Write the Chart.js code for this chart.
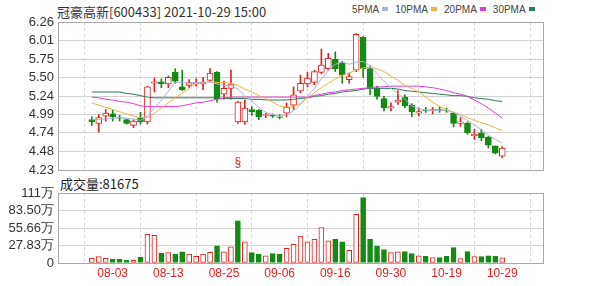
<!DOCTYPE html>
<html>
<head>
<meta charset="utf-8">
<script src="https://cdn.jsdelivr.net/npm/chart.js@4.4.1/dist/chart.umd.min.js"></script>
<style>
    body { margin: 0; background: #fff; width: 600px; height: 286px; position: relative; overflow: hidden; font-family: "Liberation Sans", Arial, sans-serif; }
    #title { position: absolute; left: 57px; top: 2px; font-size: 13px; color: #333; font-family: "Noto Sans CJK SC", sans-serif; white-space: nowrap; }
    #legend { position: absolute; left: 352px; top: 4px; font-size: 10px; color: #444; white-space: nowrap; }
    #legend span.sw { display: inline-block; width: 6px; height: 4px; margin: 0 7px 2px 3px; vertical-align: middle; }
    #volTitle { position: absolute; left: 60px; top: 174px; font-size: 13px; color: #222; font-family: "Noto Sans CJK SC", sans-serif; white-space: nowrap; }
    #priceWrap { position: absolute; left: 0; top: 0; width: 600px; height: 178px; }
    #volWrap { position: absolute; left: 0; top: 178px; width: 600px; height: 108px; }
</style>
</head>
<body>
<div id="title">冠豪高新[600433] 2021-10-29 15:00</div>
<div id="legend"></div>
<div id="volTitle">成交量:81675</div>
<div id="priceWrap"><canvas id="price-chart"></canvas></div>
<div id="volWrap"><canvas id="volume-chart"></canvas></div>
<script>
// Trading days shown
const dates = ['07-29', '07-30', '08-02', '08-03', '08-04', '08-05', '08-06', '08-09', '08-10', '08-11',
    '08-12', '08-13', '08-16', '08-17', '08-18', '08-19', '08-20', '08-23', '08-24', '08-25',
    '08-26', '08-27', '08-30', '08-31', '09-01', '09-02', '09-03', '09-06', '09-07', '09-08',
    '09-09', '09-10', '09-13', '09-14', '09-15', '09-16', '09-17', '09-22', '09-23', '09-24',
    '09-27', '09-28', '09-29', '09-30', '10-08', '10-11', '10-12', '10-13', '10-14', '10-15',
    '10-18', '10-19', '10-20', '10-21', '10-22', '10-25', '10-26', '10-27', '10-28', '10-29'];

const open = [4.92, 4.87, 4.97, 5.00, 4.95, 4.92, 4.84, 4.94, 4.89, 5.42,
    5.44, 5.41, 5.57, 5.37, 5.39, 5.41, 5.41, 5.46, 5.57, 5.27,
    5.35, 4.89, 4.89, 5.06, 5.05, 4.98, 4.98, 4.96, 5.01, 5.12,
    5.31, 5.41, 5.43, 5.57, 5.62, 5.75, 5.70, 5.47, 5.60, 6.05,
    5.62, 5.35, 5.21, 5.08, 5.16, 5.23, 5.12, 5.01, 5.05, 5.04,
    5.06, 5.05, 5.01, 4.87, 4.87, 4.70, 4.74, 4.68, 4.56, 4.42];
const close = [4.89, 4.95, 5.01, 4.96, 4.94, 4.87, 4.90, 4.89, 5.37, 5.44,
    5.41, 5.50, 5.45, 5.33, 5.43, 5.43, 5.44, 5.56, 5.20, 5.35,
    5.41, 5.16, 5.08, 5.03, 4.96, 4.99, 4.97, 4.95, 5.09, 5.26,
    5.42, 5.49, 5.58, 5.67, 5.76, 5.62, 5.53, 5.51, 6.09, 5.62,
    5.36, 5.24, 5.08, 5.10, 5.19, 5.11, 5.03, 5.03, 5.04, 5.06,
    5.05, 5.04, 4.87, 4.89, 4.74, 4.72, 4.67, 4.57, 4.46, 4.53];
const high = [4.96, 4.99, 5.06, 5.05, 4.98, 4.93, 4.92, 5.02, 5.38, 5.49,
    5.48, 5.52, 5.62, 5.60, 5.47, 5.48, 5.50, 5.62, 5.58, 5.45,
    5.60, 5.17, 5.19, 5.10, 5.06, 5.01, 5.00, 4.99, 5.15, 5.37,
    5.53, 5.57, 5.60, 5.89, 5.83, 5.85, 5.72, 5.56, 6.10, 6.06,
    5.66, 5.38, 5.24, 5.15, 5.32, 5.26, 5.14, 5.08, 5.09, 5.09,
    5.10, 5.08, 5.02, 4.95, 4.89, 4.79, 4.79, 4.69, 4.56, 4.55];
const low = [4.84, 4.75, 4.90, 4.90, 4.90, 4.86, 4.81, 4.86, 4.86, 5.30,
    5.36, 5.36, 5.42, 5.32, 5.36, 5.38, 5.33, 5.45, 5.16, 5.20,
    5.20, 4.87, 4.86, 4.98, 4.92, 4.95, 4.95, 4.93, 4.96, 5.06,
    5.29, 5.37, 5.40, 5.55, 5.60, 5.58, 5.42, 5.42, 5.58, 5.50,
    5.26, 5.20, 5.04, 5.04, 5.13, 5.08, 4.96, 4.97, 5.02, 5.00,
    5.02, 5.02, 4.82, 4.83, 4.72, 4.65, 4.63, 4.53, 4.45, 4.40];

// Moving averages
const ma5 = [4.93, 4.92, 4.93, 4.94, 4.95, 4.94, 4.93, 4.91, 4.97, 5.08,
    5.19, 5.31, 5.43, 5.43, 5.42, 5.43, 5.42, 5.44, 5.41, 5.39,
    5.39, 5.34, 5.24, 5.18, 5.09, 5.02, 4.99, 4.97, 4.99, 5.04,
    5.13, 5.24, 5.35, 5.48, 5.60, 5.68, 5.71, 5.68, 5.71, 5.72,
    5.66, 5.55, 5.45, 5.35, 5.28, 5.20, 5.11, 5.07, 5.05, 5.05,
    5.05, 5.05, 5.02, 4.97, 4.91, 4.85, 4.78, 4.71, 4.65, 4.60];
const ma10 = [5.15, 5.12, 5.09, 5.06, 5.03, 5.00, 4.97, 4.95, 4.95, 5.01,
    5.08, 5.15, 5.22, 5.28, 5.35, 5.42, 5.43, 5.44, 5.43, 5.43,
    5.42, 5.39, 5.34, 5.30, 5.25, 5.21, 5.16, 5.11, 5.09, 5.10,
    5.14, 5.22, 5.29, 5.36, 5.42, 5.48, 5.53, 5.56, 5.60, 5.63,
    5.64, 5.62, 5.58, 5.52, 5.46, 5.39, 5.35, 5.30, 5.23, 5.16,
    5.10, 5.06, 5.02, 4.99, 4.95, 4.91, 4.88, 4.85, 4.81, 4.77];
const ma20 = [5.23, 5.22, 5.20, 5.19, 5.17, 5.16, 5.14, 5.11, 5.10, 5.10,
    5.10, 5.10, 5.10, 5.11, 5.13, 5.15, 5.16, 5.18, 5.20, 5.22,
    5.23, 5.23, 5.23, 5.23, 5.23, 5.23, 5.23, 5.23, 5.23, 5.23,
    5.23, 5.23, 5.25, 5.27, 5.29, 5.30, 5.32, 5.33, 5.34, 5.35,
    5.36, 5.37, 5.37, 5.38, 5.38, 5.38, 5.38, 5.38, 5.37, 5.36,
    5.34, 5.32, 5.29, 5.27, 5.24, 5.19, 5.14, 5.08, 5.01, 4.94];
const ma30 = [5.30, 5.30, 5.30, 5.30, 5.30, 5.28, 5.27, 5.25, 5.23, 5.22,
    5.22, 5.22, 5.22, 5.22, 5.22, 5.22, 5.22, 5.22, 5.22, 5.21,
    5.21, 5.21, 5.21, 5.20, 5.20, 5.19, 5.19, 5.19, 5.19, 5.20,
    5.21, 5.22, 5.24, 5.25, 5.27, 5.28, 5.30, 5.31, 5.32, 5.34,
    5.35, 5.35, 5.35, 5.35, 5.34, 5.32, 5.31, 5.30, 5.29, 5.28,
    5.27, 5.26, 5.25, 5.25, 5.24, 5.22, 5.21, 5.20, 5.18, 5.17];

// Volume in 万 (10k shares), with its own up/down colouring
const volume = [7.6, 10.3, 7.6, 6.0, 6.0, 4.4, 4.4, 9.2, 45.7, 44.0,
    15.5, 16.6, 14.0, 17.8, 14.0, 10.8, 14.0, 17.0, 27.2, 17.8,
    25.7, 67.0, 33.6, 16.6, 14.0, 11.4, 15.0, 14.0, 23.5, 29.8,
    43.0, 33.6, 37.8, 56.3, 35.2, 37.8, 33.6, 20.3, 77.4, 103.9,
    37.8, 26.7, 21.4, 16.6, 17.8, 18.2, 15.0, 11.4, 10.5, 8.7,
    8.7, 10.5, 24.6, 7.1, 18.2, 10.3, 10.3, 11.4, 10.5, 8.17];
const volRed = [1, 1, 1, 0, 0, 0, 1, 0, 1, 1,
    0, 1, 0, 0, 1, 1, 1, 1, 0, 1,
    1, 0, 1, 0, 0, 1, 0, 0, 1, 1,
    1, 1, 1, 1, 1, 0, 0, 1, 1, 0,
    0, 0, 0, 1, 1, 0, 0, 1, 0, 1,
    0, 0, 0, 1, 0, 1, 0, 0, 0, 1];

const priceTicks = [4.23, 4.48, 4.74, 4.99, 5.24, 5.50, 5.75, 6.01, 6.26];
const volTicks = [0, 27.83, 55.66, 83.50, 111.32];
const volTickLabels = ['0', '27.83万', '55.66万', '83.50万', '111万'];
const gridDates = ['08-03', '08-13', '08-25', '09-06', '09-16', '09-30', '10-19', '10-29'];
const exRightsDate = '08-27';

const maNames = ['5PMA', '10PMA', '20PMA', '30PMA'];
const maSeries = [ma5, ma10, ma20, ma30];
const maColors = ['#aab4dc', '#f2b045', '#e23ad6', '#2b7a50'];

const RED = '#e3211c';
const GREEN = '#138a13';
const FONT = '"Liberation Sans", Arial, sans-serif';

// Legend text with swatch after each name
const legendEl = document.getElementById('legend');
maNames.forEach((name, k) => {
    legendEl.insertAdjacentHTML('beforeend',
        name + '<span class="sw" style="background:' + maColors[k] + '"></span>');
});

const up = close.map((c, i) => c >= open[i]);

// Frame around the plot area
const framePlugin = {
    id: 'frame',
    afterDraw(chart) {
        const { ctx, chartArea: a } = chart;
        ctx.save();
        ctx.strokeStyle = '#a9a9a9';
        ctx.lineWidth = 1;
        ctx.strokeRect(Math.round(a.left) + 0.5, Math.round(a.top) + 0.5, Math.round(a.width), Math.round(a.height));
        ctx.restore();
    }
};

// Ex-rights marker under the candle
const exRightsPlugin = {
    id: 'exRights',
    afterDatasetsDraw(chart) {
        const i = dates.indexOf(exRightsDate);
        if (i < 0) return;
        const { ctx, chartArea } = chart;
        const x = chart.scales.x.getPixelForValue(i);
        ctx.save();
        ctx.fillStyle = RED;
        ctx.font = '12px ' + FONT;
        ctx.textAlign = 'center';
        ctx.textBaseline = 'bottom';
        ctx.fillText('§', x, chartArea.bottom - 1);
        ctx.restore();
    }
};

function xAxis(showLabels, fitHeight) {
    return {
        type: 'linear',
        min: -0.5,
        max: dates.length + 0.5,
        afterBuildTicks: s => { s.ticks = gridDates.map(d => ({ value: dates.indexOf(d) })); },
        afterFit: s => { s.height = fitHeight; s.paddingLeft = 0; s.paddingRight = 0; },
        ticks: {
            display: showLabels,
            color: RED,
            font: { size: 12, family: FONT },
            padding: 3,
            maxRotation: 0,
            autoSkip: false,
            callback: v => dates[v]
        },
        grid: { color: '#d3d3d3', drawTicks: false },
        border: { display: false, dash: [3, 3] }
    };
}

function yAxis(min, max, ticks, label) {
    return {
        min: min,
        max: max,
        afterBuildTicks: s => { s.ticks = ticks.map(v => ({ value: v })); },
        afterFit: s => { s.width = 58; s.paddingTop = 0; s.paddingBottom = 0; },
        ticks: { color: '#333', font: { size: 13, family: FONT }, padding: 4, autoSkip: false, callback: label },
        grid: { color: '#d3d3d3', drawTicks: false },
        border: { display: false }
    };
}

// Price panel
new Chart(document.getElementById('price-chart').getContext('2d'), {
    data: {
        datasets: [
            ...maSeries.map((s, k) => ({
                type: 'line',
                label: maNames[k],
                data: s.map((v, i) => ({ x: i, y: v })),
                borderColor: maColors[k],
                borderWidth: 1,
                pointRadius: 0,
                tension: 0,
                order: 0
            })),
            {
                type: 'bar',
                label: 'body',
                data: open.map((o, i) => ({ x: i, y: [o, close[i]] })),
                backgroundColor: up.map(u => u ? '#ffffff' : GREEN),
                borderColor: up.map(u => u ? RED : GREEN),
                borderWidth: 1,
                borderSkipped: false,
                barThickness: 6,
                grouped: false,
                order: 1
            },
            {
                type: 'bar',
                label: 'wick',
                data: low.map((l, i) => ({ x: i, y: [l, high[i]] })),
                backgroundColor: up.map(u => u ? RED : GREEN),
                barThickness: 1,
                grouped: false,
                order: 2
            }
        ]
    },
    options: {
        responsive: true,
        maintainAspectRatio: false,
        animation: false,
        layout: { padding: { left: 0, right: 57, top: 22, bottom: 8 } },
        plugins: { legend: { display: false }, tooltip: { enabled: false } },
        scales: {
            x: xAxis(false, 0),
            y: yAxis(4.23, 6.26, priceTicks, v => v.toFixed(2))
        }
    },
    plugins: [framePlugin, exRightsPlugin]
});

// Volume panel
new Chart(document.getElementById('volume-chart').getContext('2d'), {
    type: 'bar',
    data: {
        datasets: [{
            data: volume.map((v, i) => ({ x: i, y: v })),
            backgroundColor: volRed.map(r => r ? '#ffffff' : GREEN),
            borderColor: volRed.map(r => r ? RED : GREEN),
            borderWidth: 1,
            borderSkipped: false,
            barThickness: 5
        }]
    },
    options: {
        responsive: true,
        maintainAspectRatio: false,
        animation: false,
        layout: { padding: { left: 0, right: 57, top: 15, bottom: 0 } },
        plugins: { legend: { display: false }, tooltip: { enabled: false } },
        scales: {
            x: xAxis(true, 23),
            y: yAxis(0, 111.32, volTicks, (v, i) => volTickLabels[i])
        }
    },
    plugins: [framePlugin]
});
</script>
</body>
</html>
